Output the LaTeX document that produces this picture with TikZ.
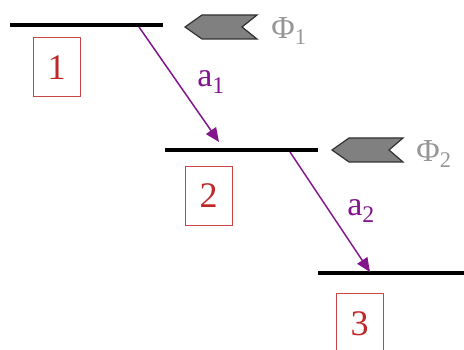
\documentclass[tikz,border=0pt]{standalone}
\usepackage{fontspec}
\setmainfont{Liberation Serif}
\definecolor{boxred}{RGB}{200,70,70}
\definecolor{numred}{RGB}{190,40,40}
\definecolor{arrpurple}{RGB}{130,20,140}
\definecolor{phigray}{RGB}{150,150,150}
\definecolor{chevfill}{RGB}{128,128,128}
\definecolor{chevdraw}{RGB}{50,50,50}
\usetikzlibrary{arrows.meta}
\begin{document}
\begin{tikzpicture}[x=1pt,y=-1pt,
  level/.style={line width=3.2pt,black},
  numbox/.style={draw=boxred,line width=1pt,minimum width=47pt,minimum height=59pt,inner sep=0pt,text=numred,font=\fontsize{36}{36}\selectfont},
  trans/.style={draw=arrpurple,line width=1.5pt,-{Triangle[length=14pt,width=12pt]}},
  alabel/.style={text=arrpurple,font=\fontsize{34}{34}\selectfont,inner sep=0pt},
  philabel/.style={text=phigray,font=\fontsize{32}{32}\selectfont,inner sep=0pt},
  chev/.style={fill=chevfill,draw=chevdraw,line width=1.2pt,line join=miter}]
\clip (0,0) rectangle (464,350);
\useasboundingbox (0,0) rectangle (464,350);
% levels
\coordinate (l1a) at (10,25); \coordinate (l1b) at (163,25);
\coordinate (l2a) at (165,150); \coordinate (l2b) at (318,150);
\coordinate (l3a) at (318,273); \coordinate (l3b) at (466,273);
\draw[level] (l1a) -- (l1b);
\draw[level] (l2a) -- (l2b);
\draw[level] (l3a) -- (l3b);
% boxes
\node[numbox] (b1) at (56.5,67.5) {1};
\node[numbox] (b2) at (208.5,196) {2};
\node[numbox] (b3) at (359.5,323.5) {3};
% transitions
\coordinate (t1s) at (139,27); \coordinate (t1e) at (219,142);
\coordinate (t2s) at (290,152); \coordinate (t2e) at (370,272);
\draw[trans] (t1s) -- (t1e);
\draw[trans] (t2s) -- (t2e);
\node[alabel] (a1) at (211,82) {a\textsubscript{1}};
\node[alabel] (a2) at (361,211) {a\textsubscript{2}};
% chevrons
\draw[chev] (185,27) -- (202,15) -- (257,15) -- (242,27) -- (257,39) -- (202,39) -- cycle;
\draw[chev] (332,150) -- (349,138) -- (403,138) -- (389,150) -- (403,162) -- (349,162) -- cycle;
\node[philabel] (p1) at (289,31) {Φ\textsubscript{1}};
\node[philabel] (p2) at (434,154) {Φ\textsubscript{2}};
\end{tikzpicture}
\end{document}
